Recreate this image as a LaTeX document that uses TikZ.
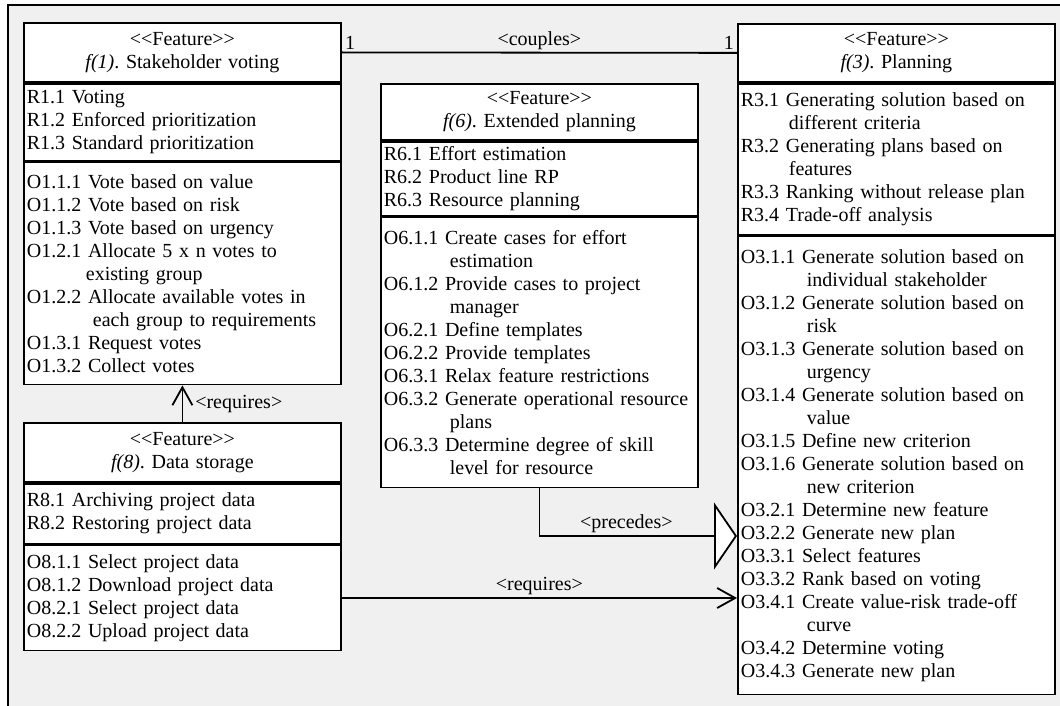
\documentclass[tikz,border=0pt]{standalone}
\usepackage{fontspec}
\setmainfont{Liberation Serif}
\usetikzlibrary{positioning,arrows.meta}
\definecolor{panelgray}{RGB}{240,240,240}
\frenchspacing
\newcommand{\stereo}{<\kern0pt<Feature>\kern0pt>}
\newcommand{\wrapline}[1][66pt]{\\\hspace*{#1}}
\tikzset{
  part/.style={draw, line width=1.8pt, fill=white, text width=311pt, inner xsep=3pt, inner ysep=0pt, align=left, font=\fontsize{20}{23}\selectfont},
  head/.style={part, align=center},
  assoc/.style={line width=1.8pt},
  lbl/.style={font=\fontsize{20}{23}\selectfont, inner sep=2pt},
  barb/.style={-{Straight Barb[length=18pt, width=20pt]}}
}
\begin{document}
\begin{tikzpicture}[x=1pt, y=-1pt]
    \useasboundingbox (0,0) rectangle (1060,706);
    \fill[panelgray] (7,5) rectangle (1060,706);
    \draw[line width=1.8pt] (8,706) -- (8,5) -- (1060,5);

    \node[head, anchor=north west, minimum height=59pt] (f1head) at (23,22) {\stereo\\\textit{f(1)}. Stakeholder voting};
    \node[part, below=0pt of f1head, minimum height=77pt] (f1req) {R1.1 Voting\\R1.2 Enforced prioritization\\R1.3 Standard prioritization};
    \node[part, below=0pt of f1req, minimum height=222pt] (f1ops) {O1.1.1 Vote based on value\\O1.1.2 Vote based on risk\\O1.1.3 Vote based on urgency\\O1.2.1 Allocate 5 x n votes to\wrapline[59pt]existing group\\O1.2.2 Allocate available votes in\wrapline each group to requirements\\O1.3.1 Request votes\\O1.3.2 Collect votes};

    \node[head, anchor=north west, minimum height=59pt] (f8head) at (23,422) {\stereo\\\textit{f(8)}. Data storage};
    \node[part, below=0pt of f8head, minimum height=60pt] (f8req) {R8.1 Archiving project data\\R8.2 Restoring project data};
    \node[part, below=0pt of f8req, minimum height=105pt] (f8ops) {O8.1.1 Select project data\\O8.1.2 Download project data\\O8.2.1 Select project data\\O8.2.2 Upload project data};

    \node[head, anchor=north west, minimum height=56pt] (f6head) at (380,83) {\stereo\\\textit{f(6)}. Extended planning};
    \node[part, below=0pt of f6head, minimum height=74pt] (f6req) {R6.1 Effort estimation\\R6.2 Product line RP\\R6.3 Resource planning};
    \node[part, below=0pt of f6req, minimum height=270pt] (f6ops) {O6.1.1 Create cases for effort\wrapline estimation\\O6.1.2 Provide cases to project\wrapline manager\\O6.2.1 Define templates\\O6.2.2 Provide templates\\O6.3.1 Relax feature restrictions\\O6.3.2 Generate operational resource\wrapline plans\\O6.3.3 Determine degree of skill\wrapline level for resource};

    \node[head, anchor=north west, minimum height=58pt] (f3head) at (737,23) {\stereo\\\textit{f(3)}. Planning};
    \node[part, below=0pt of f3head, minimum height=151pt] (f3req) {R3.1 Generating solution based on\wrapline[48pt]different criteria\\R3.2 Generating plans based on\wrapline[48pt]features\\R3.3 Ranking without release plan\\R3.4 Trade-off analysis};
    \node[part, below=0pt of f3req, minimum height=458pt] (f3ops) {O3.1.1 Generate solution based on\wrapline individual stakeholder\\O3.1.2 Generate solution based on\wrapline risk\\O3.1.3 Generate solution based on\wrapline urgency\\O3.1.4 Generate solution based on\wrapline value\\O3.1.5 Define new criterion\\O3.1.6 Generate solution based on\wrapline new criterion\\O3.2.1 Determine new feature\\O3.2.2 Generate new plan\\O3.3.1 Select features\\O3.3.2 Rank based on voting\\O3.4.1 Create value-risk trade-off\wrapline curve\\O3.4.2 Determine voting\\O3.4.3 Generate new plan};

    \draw[assoc] (f1head.east) -- node[lbl, above] {<couples>} (f3head.west);
    \node[lbl, anchor=south west, inner sep=3pt] (m1) at (f1head.east) {1};
    \node[lbl, anchor=south east, inner sep=3pt] (m3) at (f3head.west) {1};
    \draw[assoc, barb] (f8head.north) -- node[lbl, right=10pt] {<requires>} (f1ops.south);
    \draw[assoc, -{Triangle[length=23pt, width=67pt, fill=white]}] (f6ops.south) |- node[lbl, above, pos=0.72] {<precedes>} (f3ops.west |- 0,536);
    \draw[assoc, barb] (f8ops.east) -- node[lbl, above] {<requires>} (f8ops.east -| f3ops.west);
\end{tikzpicture}
\end{document}
